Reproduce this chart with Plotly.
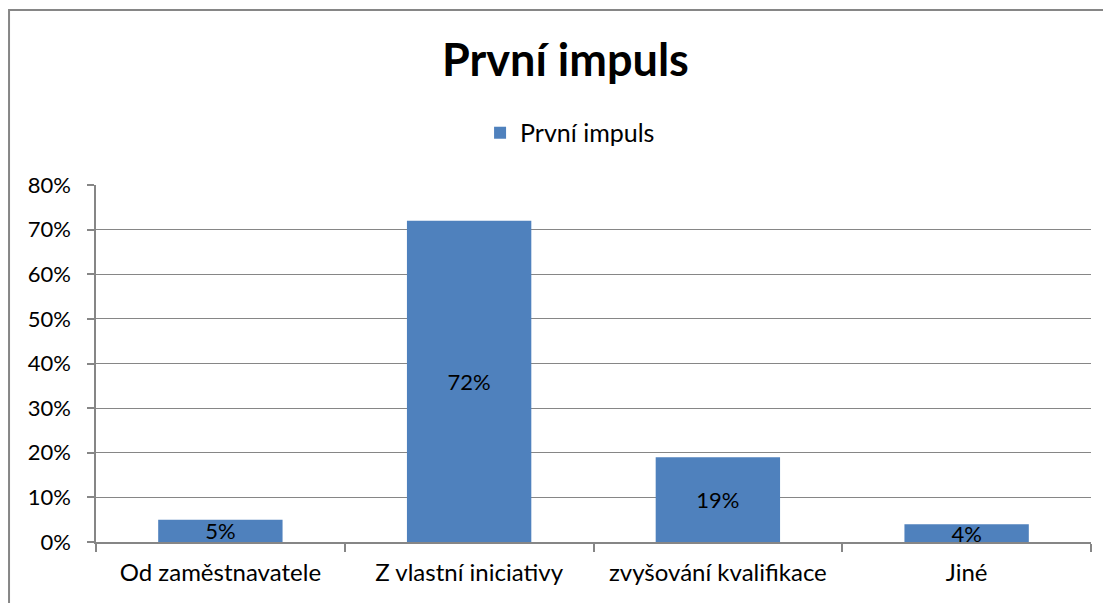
import plotly.graph_objects as go

# data
categories = ["Od zaměstnavatele", "Z vlastní iniciativy", "zvyšování kvalifikace", "Jiné"]
values = [0.05, 0.72, 0.19, 0.04]
series_name = "První impuls"
chart_title = "První impuls"

FONT = "Lato, Carlito, 'Open Sans', sans-serif"
BAR = "#4F81BD"
GRID = "#868686"

fig = go.Figure(go.Bar(
    x=categories, y=values, name=series_name,
    marker=dict(color=BAR, line=dict(width=0)),
    text=[f"{v:.0%}" for v in values],
    textposition="inside", insidetextanchor="middle",
    constraintext="none", cliponaxis=False,
    textfont=dict(family=FONT, size=22, color="black"),
    showlegend=True,
))

# the page body adds an 8px offset, so the figure is sized/margined to compensate
fig.update_layout(
    width=1103, height=595,
    margin=dict(l=88, r=20, t=177, b=61),
    paper_bgcolor="white", plot_bgcolor="white",
    font=dict(family=FONT, size=22, color="black"),
    title=dict(text="<b>" + chart_title + "</b>", x=0.5054, xanchor="center",
               y=0.913, yanchor="middle", yref="container",
               font=dict(size=45, family=FONT, color="black")),
    showlegend=True,
    legend=dict(orientation="h", x=0.386, xanchor="left", y=1.1457, yanchor="middle",
                font=dict(size=25), itemwidth=30, bgcolor="rgba(0,0,0,0)"),
    bargap=0.5,
    xaxis=dict(type="category", showline=True, linecolor=GRID, linewidth=1.5,
               ticks="outside", tickson="boundaries", ticklen=8, tickcolor=GRID,
               tickwidth=1.5, showgrid=False, tickfont=dict(size=24),
               ticklabelstandoff=8),
    yaxis=dict(range=[0, 0.8], dtick=0.1, tickformat=".0%", showline=True,
               linecolor=GRID, linewidth=1.5, ticks="outside", ticklen=7,
               tickcolor=GRID, tickwidth=1.5, gridcolor=GRID, gridwidth=1.2,
               zeroline=False, tickfont=dict(size=22), ticklabelstandoff=12),
    shapes=[dict(type="rect", xref="paper", yref="paper",
                 x0=-0.0874, x1=1.05, y0=-0.25, y1=1.490,
                 line=dict(color=GRID, width=2), fillcolor="rgba(0,0,0,0)",
                 layer="below")],
)

fig.write_html("out.html")
